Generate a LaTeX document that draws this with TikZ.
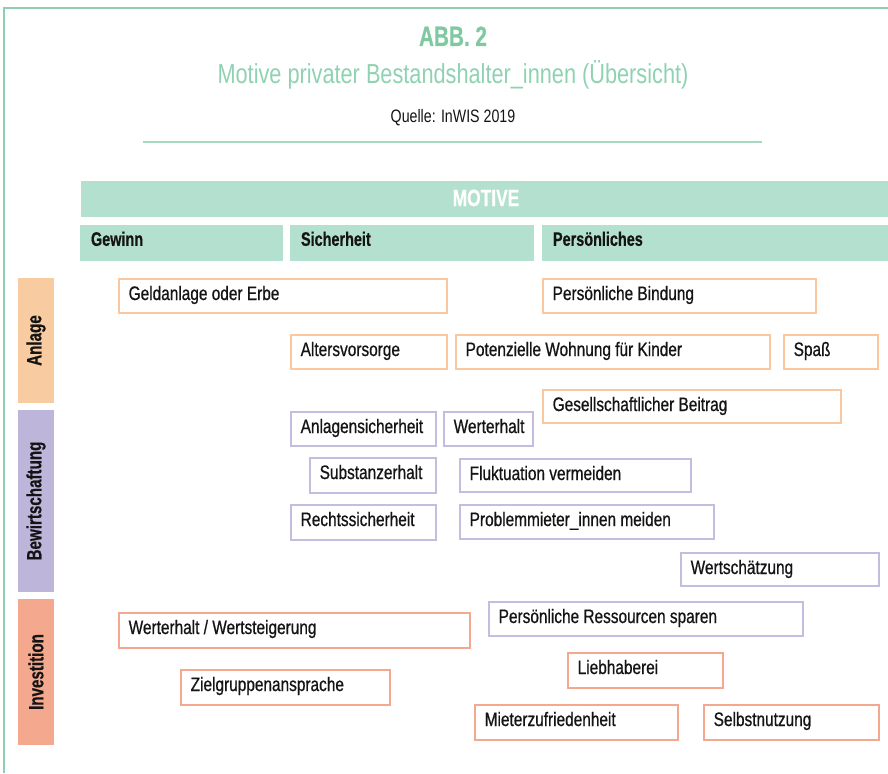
\documentclass[tikz,border=0pt]{standalone}
\usepackage{fontspec}
\setmainfont{Liberation Sans}[FakeStretch=0.79, FakeBold=0.7]
\newfontfamily\hdfont{Liberation Sans}[FakeStretch=0.74, FakeBold=0.5]
\newfontfamily\subfont{Liberation Sans}[FakeStretch=0.79]
\usetikzlibrary{fit}
\definecolor{frameg}{HTML}{8DCFAE}
\definecolor{titleg}{HTML}{7FC9A2}
\definecolor{subg}{HTML}{8FD2B2}
\definecolor{ruleg}{HTML}{A5D9C0}
\definecolor{headg}{HTML}{B4E1CF}
\definecolor{anlF}{HTML}{F9CBA0}
\definecolor{anlB}{HTML}{F9C8A0}
\definecolor{bewF}{HTML}{BEB6DA}
\definecolor{bewB}{HTML}{C4BDE0}
\definecolor{invF}{HTML}{F4A88E}
\definecolor{invB}{HTML}{F3A890}
\definecolor{txt}{HTML}{141414}
\tikzset{
  bx/.style={fill=white, line width=2pt, inner sep=0pt},
  bxt/.style={anchor=base west, inner sep=0pt, text=txt, font=\fontsize{19.5}{22}\selectfont},
  hd/.style={fill=headg, inner sep=0pt},
  hdt/.style={anchor=base west, inner sep=0pt, text=txt, font=\hdfont\bfseries\fontsize{19.5}{22}\selectfont},
  rowl/.style={inner sep=0pt},
  rowt/.style={rotate=90, inner sep=0pt, text=txt, font=\hdfont\bfseries\fontsize{20.5}{22}\selectfont},
}
\newcommand\mybx[7]{%
  \coordinate (#1-a) at (#3,#4);
  \coordinate (#1-b) at (#5,#6);
  \node[bx, draw=#2, fit=(#1-a)(#1-b)] (#1) {};
  \node[bxt] (#1-t) at ([xshift=10.5pt,yshift=-22pt]#1.north west) {#7};
}
\newcommand\myhd[6]{%
  \coordinate (#1-a) at (#2,#3);
  \coordinate (#1-b) at (#4,#5);
  \node[hd, fit=(#1-a)(#1-b)] (#1) {};
  \node[hdt] (#1-t) at ([xshift=11pt,yshift=-21pt]#1.north west) {#6};
}
\newcommand\myrow[7]{%
  \coordinate (#1-a) at (#3,#4);
  \coordinate (#1-b) at (#5,#6);
  \node[rowl, fill=#2, fit=(#1-a)(#1-b)] (#1) {};
  \node[rowt] (#1-t) at (#1.center) {#7};
}
\begin{document}
\begin{tikzpicture}[x=1pt,y=-1pt]
\useasboundingbox (0,0) rectangle (888,773);
% frame
\draw[frameg, line width=2.5pt] (4,773) -- (4,8) -- (888,8);
% titles
\node[anchor=base, inner sep=0pt, text=titleg, font=\hdfont\bfseries\fontsize{28}{30}\selectfont] (abb) at (453,46) {ABB. 2};
\node[anchor=base, inner sep=0pt, text=subg, font=\subfont\fontsize{27.5}{30}\selectfont] (sub) at (453,84) {Motive privater Bestandshalter\_innen (Übersicht)};
\node[anchor=base, inner sep=0pt, text=txt, font=\subfont\fontsize{18}{20}\selectfont] (src) at (453,123) {Quelle: InWIS 2019};
\coordinate (rl) at (143,142);
\coordinate (rr) at (762,142);
\draw[ruleg, line width=2pt] (rl) -- (rr);
% header
\coordinate (mot-a) at (81,181);
\coordinate (mot-b) at (888,217);
\node[hd, fit=(mot-a)(mot-b)] (mot) {};
\node[anchor=base, inner sep=0pt, text=white, font=\hdfont\bfseries\fontsize{23.5}{26}\selectfont] (mot-t) at (486,206) {MOTIVE};
\myhd{gew}{80}{225}{283}{261}{Gewinn}
\myhd{sich}{290}{225}{534}{261}{Sicherheit}
\myhd{pers}{542}{225}{888}{261}{Persönliches}
% row labels
\myrow{anl}{anlF}{18}{278}{54}{403}{Anlage}
\myrow{bew}{bewF}{18}{410}{54}{592}{Bewirtschaftung}
\myrow{inv}{invF}{18}{599}{54}{745}{Investition}
% Anlage boxes
\mybx{b1}{anlB}{119}{279}{447}{313}{Geldanlage oder Erbe}
\mybx{b2}{anlB}{543}{279}{816}{313}{Persönliche Bindung}
\mybx{b3}{anlB}{291}{335}{447}{369}{Altersvorsorge}
\mybx{b4}{anlB}{456}{335}{770}{369}{Potenzielle Wohnung für Kinder}
\mybx{b5}{anlB}{784}{335}{878}{369}{Spaß}
\mybx{b6}{anlB}{543}{390}{841}{423}{Gesellschaftlicher Beitrag}
% Bewirtschaftung boxes
\mybx{c1}{bewB}{291}{412}{436}{446}{Anlagensicherheit}
\mybx{c2}{bewB}{444}{412}{533}{446}{Werterhalt}
\mybx{c3}{bewB}{310}{458}{436}{493}{Substanzerhalt}
\mybx{c4}{bewB}{460}{459}{691}{492}{Fluktuation vermeiden}
\mybx{c5}{bewB}{291}{505}{436}{540}{Rechtssicherheit}
\mybx{c6}{bewB}{460}{505}{714}{539}{Problemmieter\_innen meiden}
\mybx{c7}{bewB}{681}{553}{879}{586}{Wertschätzung}
\mybx{c8}{bewB}{489}{602}{803}{636}{Persönliche Ressourcen sparen}
% Investition boxes
\mybx{d1}{invB}{119}{613}{470}{648}{Werterhalt / Wertsteigerung}
\mybx{d2}{invB}{181}{670}{390}{705}{Zielgruppenansprache}
\mybx{d3}{invB}{568}{653}{723}{688}{Liebhaberei}
\mybx{d4}{invB}{475}{705}{678}{740}{Mieterzufriedenheit}
\mybx{d5}{invB}{704}{705}{879}{740}{Selbstnutzung}
\end{tikzpicture}
\end{document}
